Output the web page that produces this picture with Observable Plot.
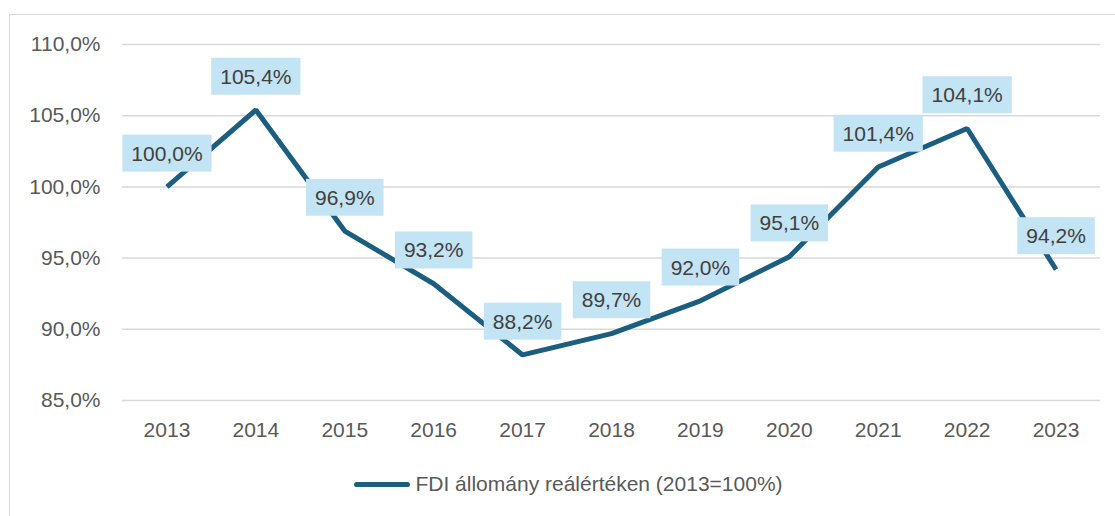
<!DOCTYPE html>
<html>
<head>
<meta charset="utf-8">
<script src="https://cdn.jsdelivr.net/npm/d3@7"></script>
<script src="https://cdn.jsdelivr.net/npm/@observablehq/plot@0.6"></script>
<style>
  html, body { margin: 0; padding: 0; background: #fff; }
  body { width: 1115px; height: 516px; position: relative; overflow: hidden; font-family: "Liberation Sans", Arial, sans-serif; }
  #frame { position: absolute; left: 9px; top: 14px; width: 1115px; height: 520px; border: 1.5px solid #d9d9d9; box-sizing: border-box; pointer-events: none; }
  #chart { position: absolute; left: 0; top: 0; }
  #legend { position: absolute; left: 0; top: 472px; width: 1115px; display: flex; justify-content: center; align-items: center; font-size: 21px; color: #595959; line-height: 24px; }
  #legend .sw { width: 56px; height: 5px; border-radius: 3px; background: #1b5e80; margin-right: 5px; margin-left: 22px;}
</style>
</head>
<body>
<div id="chart"></div>
<div id="legend"><span class="sw"></span><span>FDI állomány reálértéken (2013=100%)</span></div>
<div id="frame"></div>
<script>
const years = ["2013","2014","2015","2016","2017","2018","2019","2020","2021","2022","2023"];
const values = [100.0, 105.4, 96.9, 93.2, 88.2, 89.7, 92.0, 95.1, 101.4, 104.1, 94.2];
const yTicks = [85, 90, 95, 100, 105, 110];
const seriesName = "FDI állomány reálértéken (2013=100%)";

const data = years.map((y, i) => ({year: y, value: values[i]}));
const fmt = v => v.toFixed(1).replace(".", ",") + "%";
const lineColor = "#1b5e80";

const chart = Plot.plot({
  width: 1115,
  height: 460,
  marginLeft: 122,
  marginRight: 15,
  marginTop: 44,
  marginBottom: 60,
  style: {fontFamily: "Liberation Sans, Arial, sans-serif", fontSize: "21px", color: "#595959", background: "transparent"},
  x: {type: "point", domain: years, padding: 0.5, round: false, label: null, tickSize: 0, tickPadding: 22},
  y: {domain: [85, 110], ticks: yTicks, tickFormat: fmt, label: null, tickSize: 0, tickPadding: 22},
  marks: [
    Plot.gridY(yTicks, {stroke: "#d9d9d9", strokeOpacity: 1, strokeWidth: 1.5}),
    Plot.axisX({tickSize: 0, tickPadding: 22, fill: "#595959", fontSize: 21}),
    Plot.axisY(yTicks, {tickSize: 0, tickPadding: 22, tickFormat: fmt, fill: "#595959", fontSize: 21}),
    Plot.line(data, {x: "year", y: "value", stroke: lineColor, strokeWidth: 5, strokeLinejoin: "miter", strokeLinecap: "butt"}),
    Plot.text(data, {x: "year", y: "value", text: d => fmt(d.value), dy: -33, fill: "#404040", fontSize: 21, className: "vlabel"})
  ]
});
document.getElementById("chart").appendChild(chart);

// light-blue boxes behind data labels, sized from the rendered text
const labelGroup = chart.querySelector("g.vlabel") || [...chart.querySelectorAll("g[aria-label='text']")].pop();
if (labelGroup) {
  const ns = "http://www.w3.org/2000/svg";
  const boxes = document.createElementNS(ns, "g");
  labelGroup.querySelectorAll("text").forEach(t => {
    const b = t.getBBox();
    const m = t.getCTM();
    const gm = labelGroup.getCTM();
    const r = document.createElementNS(ns, "rect");
    const padX = 9;
    const cx = b.x + b.width / 2;
    const cy = b.y + b.height / 2;
    const w = b.width + 2 * padX, h = 37;
    const p = chart.createSVGPoint(); p.x = cx; p.y = cy;
    const q = p.matrixTransform(gm.inverse().multiply(m));
    r.setAttribute("x", q.x - w / 2);
    r.setAttribute("y", q.y - h / 2);
    r.setAttribute("width", w);
    r.setAttribute("height", h);
    r.setAttribute("fill", "#c3e4f4");
    boxes.appendChild(r);
  });
  labelGroup.insertBefore(boxes, labelGroup.firstChild);
}
</script>
</body>
</html>
